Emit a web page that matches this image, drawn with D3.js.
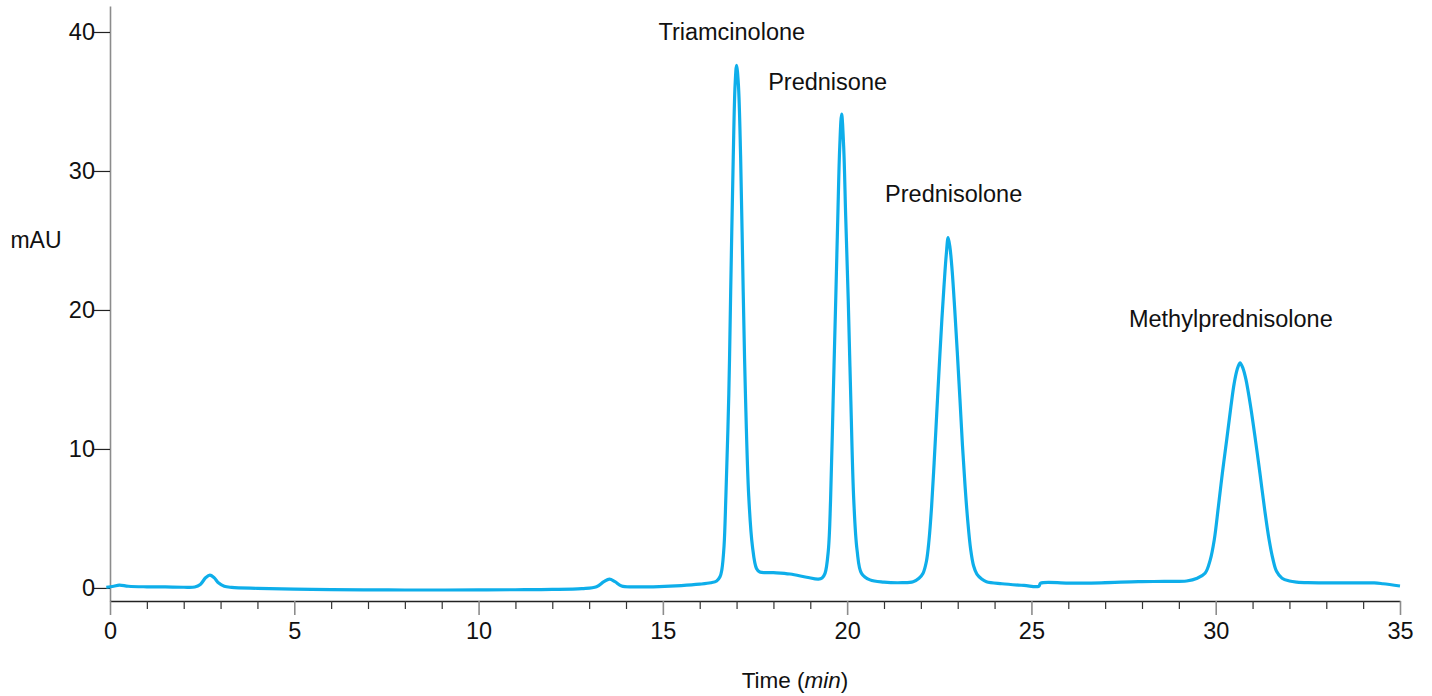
<!DOCTYPE html>
<html>
<head>
<meta charset="utf-8">
<script src="https://cdn.jsdelivr.net/npm/d3@7"></script>
<style>
  body { margin: 0; background: #fff; }
  svg { display: block; font-family: "Liberation Sans", Arial, sans-serif; }
  .axis text { font-size: 23.5px; fill: #111; }
</style>
</head>
<body>
<svg id="chart" width="1432" height="696"></svg>
<script>
// retention time (min) and absorbance (mAU)
var times = [-0.1, 0.1, 0.25, 0.5, 1.0, 1.5, 2.0, 2.3, 2.45, 2.6, 2.71, 2.82, 2.95, 3.1, 3.3,
  4.0, 5.0, 6.0, 7.0, 8.0, 9.0, 10.0, 11.0, 12.0, 12.8, 13.2, 13.4, 13.55, 13.7, 13.88,
  14.2, 14.9, 15.5, 16.0, 16.3, 16.46, 16.55, 16.60, 16.66, 16.71, 16.79, 16.84, 16.91, 16.96,
  17.00, 17.05, 17.11, 17.18, 17.24, 17.33, 17.43, 17.54, 17.63, 18.0, 18.45, 18.9, 19.22, 19.32,
  19.40, 19.49, 19.55, 19.62, 19.69, 19.745, 19.80, 19.85, 19.905, 19.96, 20.03, 20.10, 20.18, 20.27,
  20.39, 20.62, 21.0, 21.5, 21.79, 21.95,
  22.06, 22.15, 22.22, 22.29, 22.36, 22.43, 22.50, 22.57, 22.63, 22.69, 22.74,
  22.79, 22.85, 22.92, 22.99, 23.06, 23.13, 23.20, 23.27, 23.35, 23.43, 23.52, 23.65, 23.78,
  24.2, 24.8, 25.2, 25.25, 26.0, 26.9, 27.9, 28.6, 29.21, 29.5,
  29.71, 29.85, 29.96, 30.07, 30.18, 30.30, 30.41, 30.50, 30.58, 30.66,
  30.74, 30.82, 30.95, 31.08, 31.20, 31.33, 31.45, 31.55, 31.65, 31.8, 32.0, 32.2,
  32.5, 33.5, 34.3, 34.54, 35.0];
var mau = [0.05, 0.12, 0.2, 0.12, 0.08, 0.07, 0.05, 0.07, 0.25, 0.75, 0.92, 0.75, 0.35, 0.12, 0.04,
  -0.03, -0.09, -0.12, -0.14, -0.15, -0.15, -0.14, -0.13, -0.11, -0.05, 0.08, 0.45, 0.63, 0.45, 0.14,
  0.08, 0.1, 0.17, 0.27, 0.37, 0.5, 0.8, 1.3, 3.0, 6.6, 14.0, 21.3, 31.0, 36.2,
  37.6, 36.2, 31.0, 21.3, 14.0, 6.6, 3.0, 1.4, 1.15, 1.1, 1.0, 0.77, 0.63, 0.72,
  1.05, 2.7, 6.3, 13.5, 20.7, 26.5, 31.8, 34.1, 31.8, 26.8, 20.7, 13.5, 6.3, 2.7,
  1.05, 0.58, 0.42, 0.38, 0.45, 0.7,
  1.06, 1.9, 3.4, 5.8, 9.0, 12.5, 16.0, 19.3, 21.8, 24.0, 25.2,
  24.5, 22.8, 20.0, 16.9, 13.6, 10.2, 7.3, 4.9, 2.8, 1.6, 1.0, 0.65, 0.45,
  0.3, 0.18, 0.12, 0.34, 0.35, 0.37, 0.45, 0.47, 0.5, 0.7,
  1.05, 2.0, 3.45, 5.8, 8.25, 10.7, 13.0, 14.7, 15.7, 16.2,
  15.8, 15.0, 13.0, 10.6, 8.25, 5.6, 3.45, 2.1, 1.2, 0.7, 0.5, 0.42,
  0.38, 0.36, 0.36, 0.3, 0.14];

// peak names and where their labels sit (min, mAU)
var peakNames = ["Triamcinolone", "Prednisone", "Prednisolone", "Methylprednisolone"];
var labelTimes = [16.87, 19.47, 22.89, 30.41];
var labelLevels = [39.4, 35.8, 27.8, 18.8];

var xMajor = [0, 5, 10, 15, 20, 25, 30, 35];
var xMinor = d3.range(0, 36).filter(function (d) { return d % 5 !== 0; });
var yTicks = [0, 10, 20, 30, 40];

drawChart();

function drawChart() {
  var svg = d3.select("#chart");
  svg.selectAll("*").remove();

  var x = d3.scaleLinear().domain([0, 35]).range([110, 1400]);
  var y = d3.scaleLinear().domain([-0.94, 41.87]).range([601, 6]);

  var data = times.map(function (t, i) { return { t: t, v: mau[i] }; });

  // y axis
  var yAxis = svg.append("g")
      .attr("class", "axis axis--y")
      .attr("transform", "translate(110,0)")
      .call(d3.axisLeft(y).tickValues(yTicks).tickFormat(d3.format("d"))
        .tickSize(16).tickSizeOuter(0).tickPadding(-1));
  yAxis.select(".domain").attr("stroke", "#8c8c8c").attr("stroke-width", 1.6);
  yAxis.selectAll(".tick line").attr("stroke", "#222").attr("stroke-width", 1.2);

  // x axis: minor ticks first, then labelled major ticks
  var xMinorAxis = svg.append("g")
      .attr("class", "axis axis--x-minor")
      .attr("transform", "translate(0,601)")
      .call(d3.axisBottom(x).tickValues(xMinor).tickFormat("").tickSize(8).tickSizeOuter(0));
  xMinorAxis.select(".domain").attr("stroke", "#222").attr("stroke-width", 1.3);
  xMinorAxis.selectAll(".tick line").attr("stroke", "#333").attr("stroke-width", 1.2);

  var xAxis = svg.append("g")
      .attr("class", "axis axis--x")
      .attr("transform", "translate(0,601)")
      .call(d3.axisBottom(x).tickValues(xMajor).tickFormat(d3.format("d"))
        .tickSize(14).tickSizeOuter(0).tickPadding(7));
  xAxis.select(".domain").remove();
  xAxis.selectAll(".tick line").attr("stroke", "#8c8c8c").attr("stroke-width", 1.6);

  // axis titles
  svg.append("text")
      .attr("x", 36).attr("y", 248)
      .attr("text-anchor", "middle")
      .style("font-size", "23px").attr("fill", "#111")
      .text("mAU");

  var xt = svg.append("text")
      .attr("x", 795).attr("y", 688)
      .attr("text-anchor", "middle")
      .style("font-size", "22.5px").attr("fill", "#111");
  xt.append("tspan").text("Time (");
  xt.append("tspan").style("font-style", "italic").text("min");
  xt.append("tspan").text(")");

  // chromatogram trace
  var line = d3.line()
      .x(function (d) { return x(d.t); })
      .y(function (d) { return y(d.v); })
      .curve(d3.curveCatmullRom.alpha(0.5));

  svg.append("path")
      .datum(data)
      .attr("fill", "none")
      .attr("stroke", "#0eaeea")
      .attr("stroke-width", 3.2)
      .attr("stroke-linejoin", "round")
      .attr("d", line);

  // peak labels
  svg.selectAll(".peak-label")
      .data(peakNames)
      .enter().append("text")
      .attr("class", "peak-label")
      .attr("x", function (d, i) { return x(labelTimes[i]); })
      .attr("y", function (d, i) { return y(labelLevels[i]); })
      .attr("text-anchor", "middle")
      .style("font-size", "23.5px").attr("fill", "#111")
      .text(function (d) { return d; });
}
</script>
</body>
</html>
